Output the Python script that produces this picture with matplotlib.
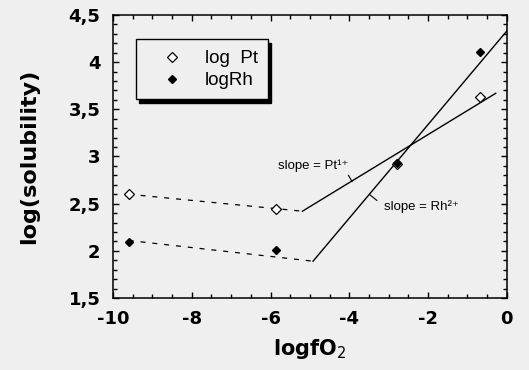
import matplotlib.pyplot as plt
from matplotlib.patches import Rectangle
from matplotlib.ticker import MultipleLocator, FixedLocator

# measured points
x_pts = [-9.6, -5.86, -2.8, -0.68]
log_pt = [2.60, 2.44, 2.92, 3.63]
log_rh = [2.09, 2.01, 2.93, 4.11]

# fitted lines (dashed low-fO2 part, solid slope part)
pt_dash_x = [-9.6, -5.19]
pt_dash_y = [2.60, 2.42]
pt_fit_x = [-5.19, -0.28]
pt_fit_y = [2.42, 3.67]
rh_dash_x = [-9.6, -4.92]
rh_dash_y = [2.11, 1.89]
rh_fit_x = [-4.92, 0.0]
rh_fit_y = [1.89, 4.33]

yticks = [1.5, 2, 2.5, 3, 3.5, 4, 4.5]
ytick_labels = ['1,5', '2', '2,5', '3', '3,5', '4', '4,5']
xticks = [-10, -8, -6, -4, -2, 0]
xtick_labels = ['-10', '-8', '-6', '-4', '-2', '0']

bg = '#efefef'
plt.rcParams['font.family'] = ['DejaVu Sans']
fig = plt.figure(figsize=(5.29, 3.70), dpi=100, facecolor=bg)
ax = fig.add_axes([0.2136, 0.1946, 0.7444, 0.7649], facecolor=bg)

ax.plot(pt_dash_x, pt_dash_y, color='black', lw=0.9, ls=(0, (4, 5.5)))
ax.plot(rh_dash_x, rh_dash_y, color='black', lw=0.9, ls=(0, (4, 5.5)))
ax.plot(pt_fit_x, pt_fit_y, color='black', lw=1.0)
ax.plot(rh_fit_x, rh_fit_y, color='black', lw=1.0)

ax.plot(x_pts, log_pt, ls='none', marker='D', ms=5.0, mfc='white', mec='black',
        mew=0.9, label='log  Pt', zorder=4)
ax.plot(x_pts, log_rh, ls='none', marker='D', ms=3.6, mfc='black', mec='black',
        label='logRh', zorder=5)

sans = ['Liberation Sans', 'DejaVu Sans']
ax.text(-5.82, 2.90, 'slope = Pt\u00b9\u207a', fontsize=9.5, family=sans, va='center')
ax.plot([-4.02, -3.93], [2.80, 2.735], color='black', lw=0.8)
ax.text(-3.12, 2.47, 'slope = Rh\u00b2\u207a', fontsize=9.5, family=sans, va='center')
ax.plot([-3.48, -3.3], [2.595, 2.535], color='black', lw=0.8)

ax.set_xlim(-10, 0)
ax.set_ylim(1.5, 4.5)
ax.xaxis.set_major_locator(FixedLocator(xticks))
ax.set_xticklabels(xtick_labels)
ax.xaxis.set_minor_locator(MultipleLocator(0.5))
ax.yaxis.set_major_locator(FixedLocator(yticks))
ax.set_yticklabels(ytick_labels)
ax.yaxis.set_minor_locator(MultipleLocator(0.1))
ax.tick_params(which='both', direction='in', top=True, right=True, width=1.0)
ax.tick_params(which='major', length=4.5, labelsize=13, pad=9)
ax.tick_params(which='minor', length=3)
for lbl in ax.get_xticklabels() + ax.get_yticklabels():
    lbl.set_fontweight('bold')
for s in ax.spines.values():
    s.set_linewidth(1.1)

ax.set_xlabel('logfO$_2$', fontsize=15, fontweight='bold', labelpad=6)
ax.set_ylabel('log(solubility)', fontsize=16, fontweight='bold', labelpad=21)

# legend box with a hard drop shadow
bx, by, bw, bh = 0.058, 0.703, 0.335, 0.212
ax.add_patch(Rectangle((bx + 0.009, by - 0.013), bw, bh, transform=ax.transAxes,
                       facecolor='black', edgecolor='black', zorder=6))
ax.add_patch(Rectangle((bx, by), bw, bh, transform=ax.transAxes,
                       facecolor=bg, edgecolor='black', lw=1.0, zorder=7))
leg = ax.legend(loc='upper left', bbox_to_anchor=(0.127, 0.889),
                frameon=False, prop={'family': sans, 'size': 13.5},
                handlelength=0.6, handletextpad=1.45, labelspacing=0.25,
                borderpad=0.2, borderaxespad=0)
leg.set_zorder(8)

fig.savefig('out.png', dpi=100, facecolor=bg)
